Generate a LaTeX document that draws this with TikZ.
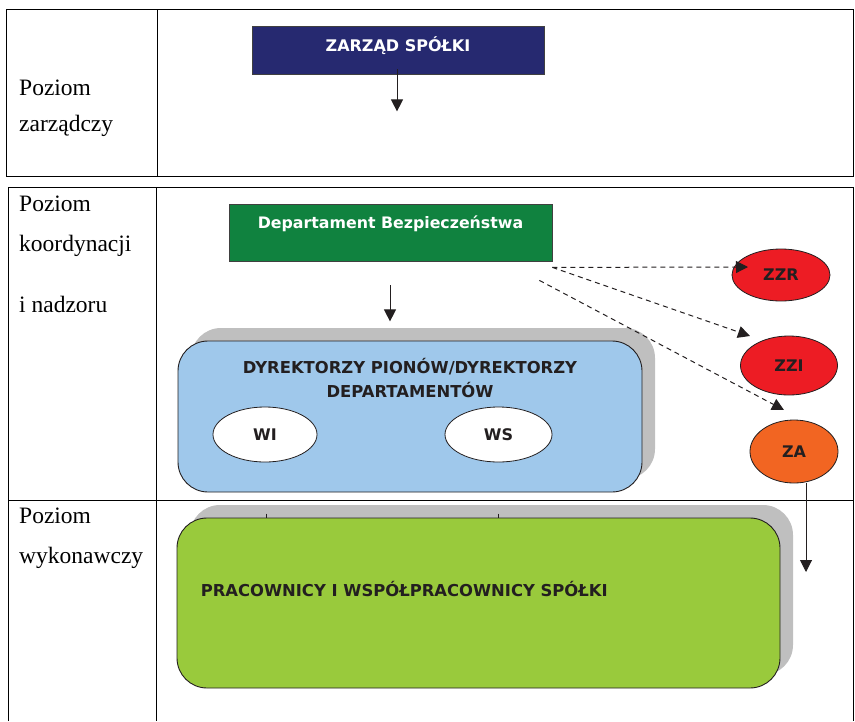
\documentclass[tikz,border=0pt]{standalone}
\usepackage{fontspec}
\setmainfont{Liberation Serif}
\newfontfamily\boxfont{DejaVu Sans}
\usetikzlibrary{arrows.meta,shapes.geometric,shadows,positioning}
\definecolor{zarzadblue}{RGB}{38,41,112}
\definecolor{depgreen}{RGB}{16,130,63}
\definecolor{dyrblue}{RGB}{159,200,235}
\definecolor{pracgreen}{RGB}{153,202,60}
\definecolor{zzred}{RGB}{237,28,36}
\definecolor{zaorange}{RGB}{242,101,34}
\definecolor{shadowgray}{RGB}{191,191,191}
\definecolor{inkdark}{RGB}{35,31,32}

\begin{document}
\begin{tikzpicture}[x=1pt,y=-1pt,
	levtext/.style={anchor=base west,inner sep=0pt,font=\fontsize{23.5}{27}\selectfont},
	boxtext/.style={font=\boxfont\bfseries\fontsize{16}{24}\selectfont},
	flatbox/.style={boxtext,draw=black!75,line width=0.8pt,text=white,inner sep=0pt},
	roundbox/.style={draw=inkdark,line width=0.9pt,rounded corners=30pt,
		general shadow={fill=shadowgray,shadow xshift=13pt,shadow yshift=13pt}},
	oval/.style={boxtext,ellipse,draw=inkdark,line width=0.8pt,text=inkdark,inner sep=0pt},
	arr/.style={-{Triangle[length=12pt,width=12pt]},line width=1pt,inkdark},
	dasharr/.style={arr,dashed,dash pattern=on 5pt off 4pt}]
	\useasboundingbox (0,0) rectangle (855,721);
	%
	% tabela
	\draw[line width=0.8pt] (6,9) rectangle (853,176);
	\draw[line width=0.8pt] (157,9) -- (157,176);
	\draw[line width=0.8pt] (8,721) -- (8,187) -- (853,187) -- (853,721);
	\draw[line width=0.8pt] (156,187) -- (156,721);
	\draw[line width=0.8pt] (8,500) -- (853,500);
	%
	\node[levtext] (l1a) at (19,95) {Poziom};
	\node[levtext] (l1b) at (19,131) {zarządczy};
	\node[levtext] (l2a) at (19,211) {Poziom};
	\node[levtext] (l2b) at (19,251) {koordynacji};
	\node[levtext] (l2c) at (19,312) {i nadzoru};
	\node[levtext] (l3a) at (19,523) {Poziom};
	\node[levtext] (l3b) at (19,563) {wykonawczy};
	%
	\node[flatbox,fill=zarzadblue,minimum width=292pt,minimum height=48pt,
		text height=12pt,text depth=9.3pt] (zarzad) at (398,50) {ZARZĄD SPÓŁKI};
	\draw[arr] (zarzad.south) ++(-1,-5) -- ++(0,42);
	%
	\node[flatbox,fill=depgreen,minimum width=323pt,minimum height=57pt,
		font=\boxfont\bfseries\fontsize{15.8}{20}\selectfont,
		text height=12pt,text depth=19.6pt] (dep) at (390.5,232.5) {Departament Bezpieczeństwa};
	\draw[arr] (dep.south) ++(-0.5,24) -- ++(0,36);
	%
	\node[roundbox,fill=dyrblue,minimum width=464pt,minimum height=151pt,
		label={[boxtext,font=\boxfont\bfseries\fontsize{16.4}{24}\selectfont,text=inkdark,align=center,anchor=north,inner sep=0pt,yshift=-18pt]north:DYREKTORZY PIONÓW/DYREKTORZY\\DEPARTAMENTÓW}] (dyr) at (410,416.5) {};
	\node[oval,fill=white,minimum width=104pt,minimum height=55pt] (wi) at (265,434.5) {WI};
	\node[oval,fill=white,minimum width=107pt,minimum height=55pt] (ws) at (498.5,434.5) {WS};
	%
	\node[roundbox,fill=pracgreen,minimum width=603pt,minimum height=170pt,
		label={[boxtext,font=\boxfont\bfseries\fontsize{16.4}{24}\selectfont,text=inkdark,anchor=west,inner sep=0pt,xshift=24pt,yshift=13.5pt]west:PRACOWNICY I WSPÓŁPRACOWNICY SPÓŁKI}] (prac) at (478.5,603) {};
	\draw[line width=0.6pt,inkdark] (wi |- prac.north) ++(1,-4) -- ++(0,4);
	\draw[line width=0.6pt,inkdark] (ws |- prac.north) ++(-0.5,-4) -- ++(0,4);
	%
	\node[oval,fill=zzred,minimum width=98pt,minimum height=52pt] (zzr) at (781,275) {ZZR};
	\node[oval,fill=zzred,minimum width=97pt,minimum height=59pt] (zzi) at (789,365.5) {ZZI};
	\node[oval,fill=zaorange,minimum width=88pt,minimum height=63pt] (za) at (794,451.5) {ZA};
	%
	\coordinate (t1) at (748,267);
	\coordinate (t2) at (750,336);
	\coordinate (t3) at (784,410);
	\coordinate (t4) at (806,572);
	\draw[dasharr] (dep.south east) ++(0,6) -- (t1);
	\draw[dasharr] (dep.south east) ++(0,6) -- (t2);
	\draw[dasharr] (dep.south east) ++(-13,19) -- (t3);
	\draw[arr] (za.south -| t4) -- (t4);
\end{tikzpicture}
\end{document}
